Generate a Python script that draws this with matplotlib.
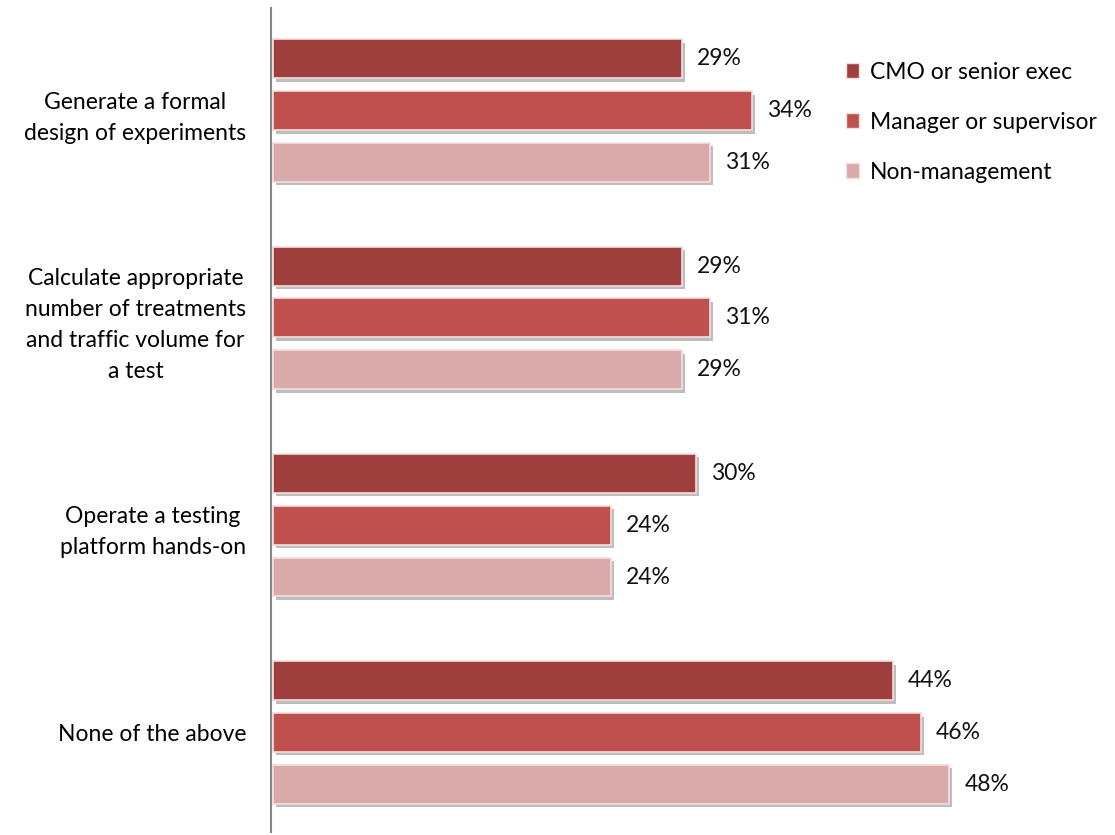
import numpy as np
import matplotlib
matplotlib.use("Agg")
from matplotlib import pyplot as plt
from matplotlib.patches import Patch
import matplotlib.patheffects as pe

plt.rcParams['font.family'] = ['Lato', 'DejaVu Sans']

# data
categories = ["Generate a formal\ndesign of experiments",
              "Calculate appropriate\nnumber of treatments\nand traffic volume for\na test",
              "Operate a testing\nplatform hands-on",
              "None of the above"]
series = ["CMO or senior exec", "Manager or supervisor", "Non-management"]
cmo = [29, 29, 30, 44]
manager = [34, 31, 24, 46]
nonmgmt = [31, 29, 24, 48]
colors = ["#9e3f3d", "#c0504d", "#daa9a9"]

fig = plt.figure(figsize=(11.15, 8.35), dpi=100)
ax = fig.add_axes([271 / 1115, 3 / 835, 1 - 271 / 1115, 824 / 835])

group_pos = np.arange(len(categories)) * 4
shadow = [pe.SimplePatchShadow(offset=(2, -2.5), shadow_rgbFace="#888888", alpha=0.55), pe.Normal()]

for k, (vals, col, name) in enumerate(zip([cmo, manager, nonmgmt], colors, series)):
    y = group_pos + (k - 1)
    bars = ax.barh(y, vals, height=0.75, color=col, edgecolor="#f4dede", linewidth=1.2,
                   left=0.15, label=name)
    for b in bars:
        b.set_path_effects(shadow)
    for yy, v in zip(y, vals):
        ax.text(v + 1.2, yy, f"{v}%", va="center", ha="left", fontsize=16.5, color="#111111")

ax.set_xlim(0, 59.9)
ax.set_ylim(13.92, -1.98)
ax.set_yticks(group_pos)
ax.set_yticklabels(categories, fontsize=16.5, multialignment="center", linespacing=1.6)
ax.tick_params(axis="y", length=0, pad=18)
ax.set_xticks([])
for s in ["top", "right", "bottom"]:
    ax.spines[s].set_visible(False)
ax.spines["left"].set_color("#888888")
ax.spines["left"].set_linewidth(1.5)

handles = [Patch(facecolor=c, edgecolor="#f4dede", label=n) for c, n in zip(colors, series)]
fig.legend(handles=handles, loc="upper left", bbox_to_anchor=(825 / 1115, 1 - 41 / 835),
           frameon=False, fontsize=16.5, handlelength=0.6, handleheight=0.6,
           handletextpad=0.45, labelspacing=1.27)

fig.savefig("out.png", dpi=100)
